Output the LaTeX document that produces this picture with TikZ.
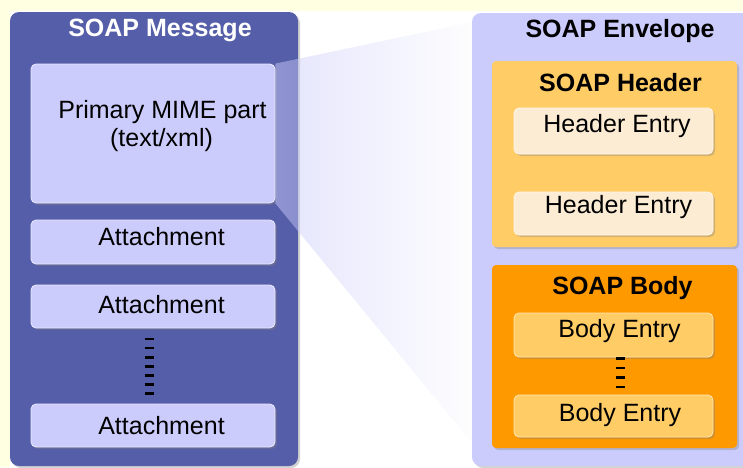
\documentclass[tikz,border=0pt]{standalone}
\usepackage{fontspec}
\setmainfont{Liberation Sans}
\usetikzlibrary{shadows,fadings}

\definecolor{bgyellow}{RGB}{255,255,226}
\definecolor{msgblue}{RGB}{85,94,168}
\definecolor{lavender}{RGB}{204,204,252}
\definecolor{hdrorange}{RGB}{255,204,102}
\definecolor{entrycream}{RGB}{252,236,212}
\definecolor{bodyorange}{RGB}{255,153,0}

\tikzset{
  box/.style={inner sep=0pt, rounded corners=5pt,
    drop shadow={shadow xshift=2pt, shadow yshift=-2pt, opacity=0.35}},
  msgbox/.style={box, fill=msgblue, rounded corners=9pt},
  envbox/.style={box, fill=lavender, rounded corners=9pt},
  partbox/.style={box, fill=lavender, draw=white!60!lavender, line width=0.8pt},
  hdrbox/.style={box, fill=hdrorange, rounded corners=4pt},
  bodybox/.style={box, fill=bodyorange, rounded corners=4pt},
  hentry/.style={box, fill=entrycream, draw=white!50!entrycream, line width=0.8pt},
  bentry/.style={box, fill=hdrorange, draw=white!50!hdrorange, line width=0.8pt},
  title/.style={anchor=base, inner sep=0pt, font=\fontsize{25}{29}\selectfont\bfseries},
  label/.style={anchor=base, inner sep=0pt, font=\fontsize{25}{29}\selectfont},
  dashbar/.style={line width=2.6pt, black},
}

\begin{document}
\begin{tikzpicture}[x=1pt, y=-1pt]

\useasboundingbox (0,0) rectangle (743,467);
\clip (0,0) rectangle (743,467);

% background
\fill[bgyellow] (0,0) rectangle (743,467);
\fill[white] (10,11) rectangle (743,467);

% SOAP message with its parts
\node[msgbox, minimum width=288pt, minimum height=454pt] (msg) at (154,239) {};
\node[title, white] (msgtitle) at (160,36) {SOAP Message};

\node[partbox, minimum width=244pt, minimum height=139pt] (mime) at (153,133.5) {};
\node[label] (mimetext) at (162.5,118) {Primary MIME part};
\node[label] (mimetype) at (161.5,146) {(text/xml)};

\node[partbox, minimum width=244pt, minimum height=44pt] (att1) at (153,242) {};
\node[partbox, minimum width=244pt, minimum height=43pt] (att2) at (153,306.5) {};
\node[partbox, minimum width=244pt, minimum height=43pt] (att3) at (153,425.5) {};
\node[label] (att1text) at (161.5,245) {Attachment};
\node[label] (att2text) at (161.5,313) {Attachment};
\node[label] (att3text) at (161.5,434) {Attachment};

\foreach \k in {0,...,6}
  \draw[dashbar] (145,339+9.1*\k) -- ++(9,0);

% funnel from the primary part to the envelope
\coordinate (funtop) at (482,20);
\coordinate (funbot) at (482,455);
\fill[lavender, fill opacity=0.5, path fading=east]
  (mime.north east) -- (funtop) -- (funbot) -- (mime.south east) -- cycle;

% SOAP envelope
\node[envbox, minimum width=320pt, minimum height=453pt] (env) at (632,239.5) {};
\node[title] (envtitle) at (620,37) {SOAP Envelope};

\node[hdrbox, minimum width=245pt, minimum height=186pt] (hdr) at (614.5,154) {};
\node[title] (hdrtitle) at (620.5,91) {SOAP Header};
\node[hentry, minimum width=199pt, minimum height=46pt] (hent1) at (613.5,131) {};
\node[hentry, minimum width=199pt, minimum height=43pt] (hent2) at (613.5,213.5) {};
\node[label] (hent1text) at (617,132) {Header Entry};
\node[label] (hent2text) at (618.5,213) {Header Entry};

\node[bodybox, minimum width=245pt, minimum height=183pt] (body) at (614.5,356.5) {};
\node[title] (bodytitle) at (622.5,294) {SOAP Body};
\node[bentry, minimum width=199pt, minimum height=44pt] (bent1) at (613.5,335) {};
\node[bentry, minimum width=199pt, minimum height=42pt] (bent2) at (613.5,416) {};
\node[label] (bent1text) at (619.5,337) {Body Entry};
\node[label] (bent2text) at (620,421) {Body Entry};

\foreach \k in {0,...,3}
  \draw[dashbar] (616,358.5+9.5*\k) -- ++(9,0);

\end{tikzpicture}
\end{document}
